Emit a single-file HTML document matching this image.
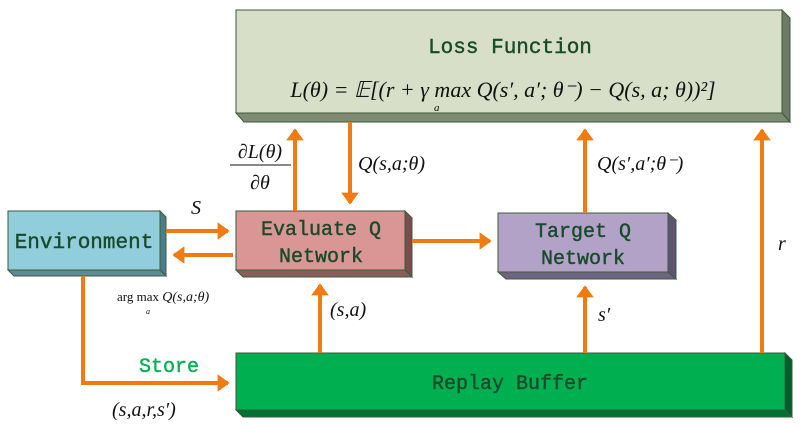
<!DOCTYPE html>
<html><head><meta charset="utf-8"><style>
body{margin:0;background:#fff;width:800px;height:426px;overflow:hidden}
svg{display:block}
.t{font-family:"Liberation Mono",monospace;fill:#174a2a;stroke:#174a2a;stroke-width:0.4}
.m{font-family:"Liberation Serif",serif;font-style:italic;fill:#111}
.r{font-family:"Liberation Serif",serif;fill:#111}
</style></head><body>
<svg width="800" height="426" viewBox="0 0 800 426">
<defs><marker id="a" markerWidth="5" markerHeight="5" refX="2.6" refY="2.2" orient="auto" markerUnits="strokeWidth"><path d="M0,0 L3,2.2 L0,4.4 Z" fill="#f07b12"/></marker></defs>
<g stroke="#3d5a3d" stroke-width="1">
<polygon points="782,10 790,18 790,122 782,113" fill="#6f7a66"/>
<polygon points="236,113 782,113 790,122 244,122" fill="#7f8a74"/>
<rect x="236" y="10" width="546" height="103" fill="#d7dfc8"/>
<polygon points="160,211 166,217 166,276 160,270" fill="#4d7d8a"/>
<polygon points="8,270 160,270 166,276 14,276" fill="#5b8b98"/>
<rect x="8" y="211" width="152" height="59" fill="#92cddc"/>
<polygon points="405,211 412,218 412,277 405,270" fill="#7a4d4c"/>
<polygon points="236,270 405,270 412,277 243,277" fill="#8a5d5b"/>
<rect x="236" y="211" width="169" height="59" fill="#d99694"/>
<polygon points="668,213 676,220 676,279 668,272" fill="#5e5470"/>
<polygon points="498,272 668,272 676,279 506,279" fill="#6e6380"/>
<rect x="498" y="213" width="170" height="59" fill="#b2a2c7"/>
<polygon points="785,353 792,360 792,417 785,410" fill="#00602a"/>
<polygon points="236,410 785,410 792,417 243,417" fill="#007033"/>
<rect x="236" y="353" width="549" height="57" fill="#00b050"/>
</g>
<g stroke="#f07b12" stroke-width="4" fill="none" marker-end="url(#a)">
<line x1="295" y1="211" x2="295" y2="130"/>
<line x1="350" y1="122" x2="350" y2="203"/>
<line x1="585" y1="213" x2="585" y2="130"/>
<line x1="762" y1="353" x2="762" y2="130"/>
<line x1="166" y1="231" x2="228" y2="231"/>
<line x1="233" y1="255" x2="174" y2="255"/>
<line x1="412" y1="241" x2="490" y2="241"/>
<line x1="320" y1="353" x2="320" y2="285"/>
<line x1="585" y1="353" x2="585" y2="287"/>
<polyline points="83,276 83,383 228,383"/>
</g>
<text class="t" x="510" y="53" font-size="21" text-anchor="middle">Loss Function</text>
<text class="m" x="503" y="97" font-size="22" text-anchor="middle">L(θ) = 𝔼[(r + γ max Q(s′, a′; θ⁻) − Q(s, a; θ))²]</text>
<text class="m" x="434" y="111" font-size="11">a</text>
<text class="t" x="84" y="248" font-size="21" text-anchor="middle">Environment</text>
<text class="t" x="321" y="235" font-size="20" text-anchor="middle">Evaluate Q</text>
<text class="t" x="321" y="262" font-size="20" text-anchor="middle">Network</text>
<text class="t" x="583" y="237" font-size="20" text-anchor="middle">Target Q</text>
<text class="t" x="583" y="264" font-size="20" text-anchor="middle">Network</text>
<text class="t" x="510" y="389" font-size="20" text-anchor="middle">Replay Buffer</text>
<text class="t" x="139" y="372" font-size="20" style="fill:#00b050;stroke:#00b050">Store</text>
<text class="m" x="260" y="158" font-size="20" text-anchor="middle">∂L(θ)</text>
<line x1="230" y1="165" x2="291" y2="165" stroke="#111" stroke-width="1"/>
<text class="m" x="260" y="189" font-size="20" text-anchor="middle">∂θ</text>
<text class="m" x="358" y="170" font-size="20">Q(s,a;θ)</text>
<text class="m" x="597" y="170" font-size="20">Q(s′,a′;θ⁻)</text>
<text class="m" x="191" y="214" font-size="20">S</text>
<text class="r" x="117" y="301" font-size="13">arg max <tspan class="m" font-size="14">Q(s,a;θ)</tspan></text>
<text class="m" x="146" y="314" font-size="8">a</text>
<text class="m" x="330" y="316" font-size="20">(s,a)</text>
<text class="m" x="598" y="321" font-size="20">s′</text>
<text class="m" x="778" y="250" font-size="20">r</text>
<text class="m" x="112" y="416" font-size="20">(s,a,r,s′)</text>
</svg>
</body></html>
